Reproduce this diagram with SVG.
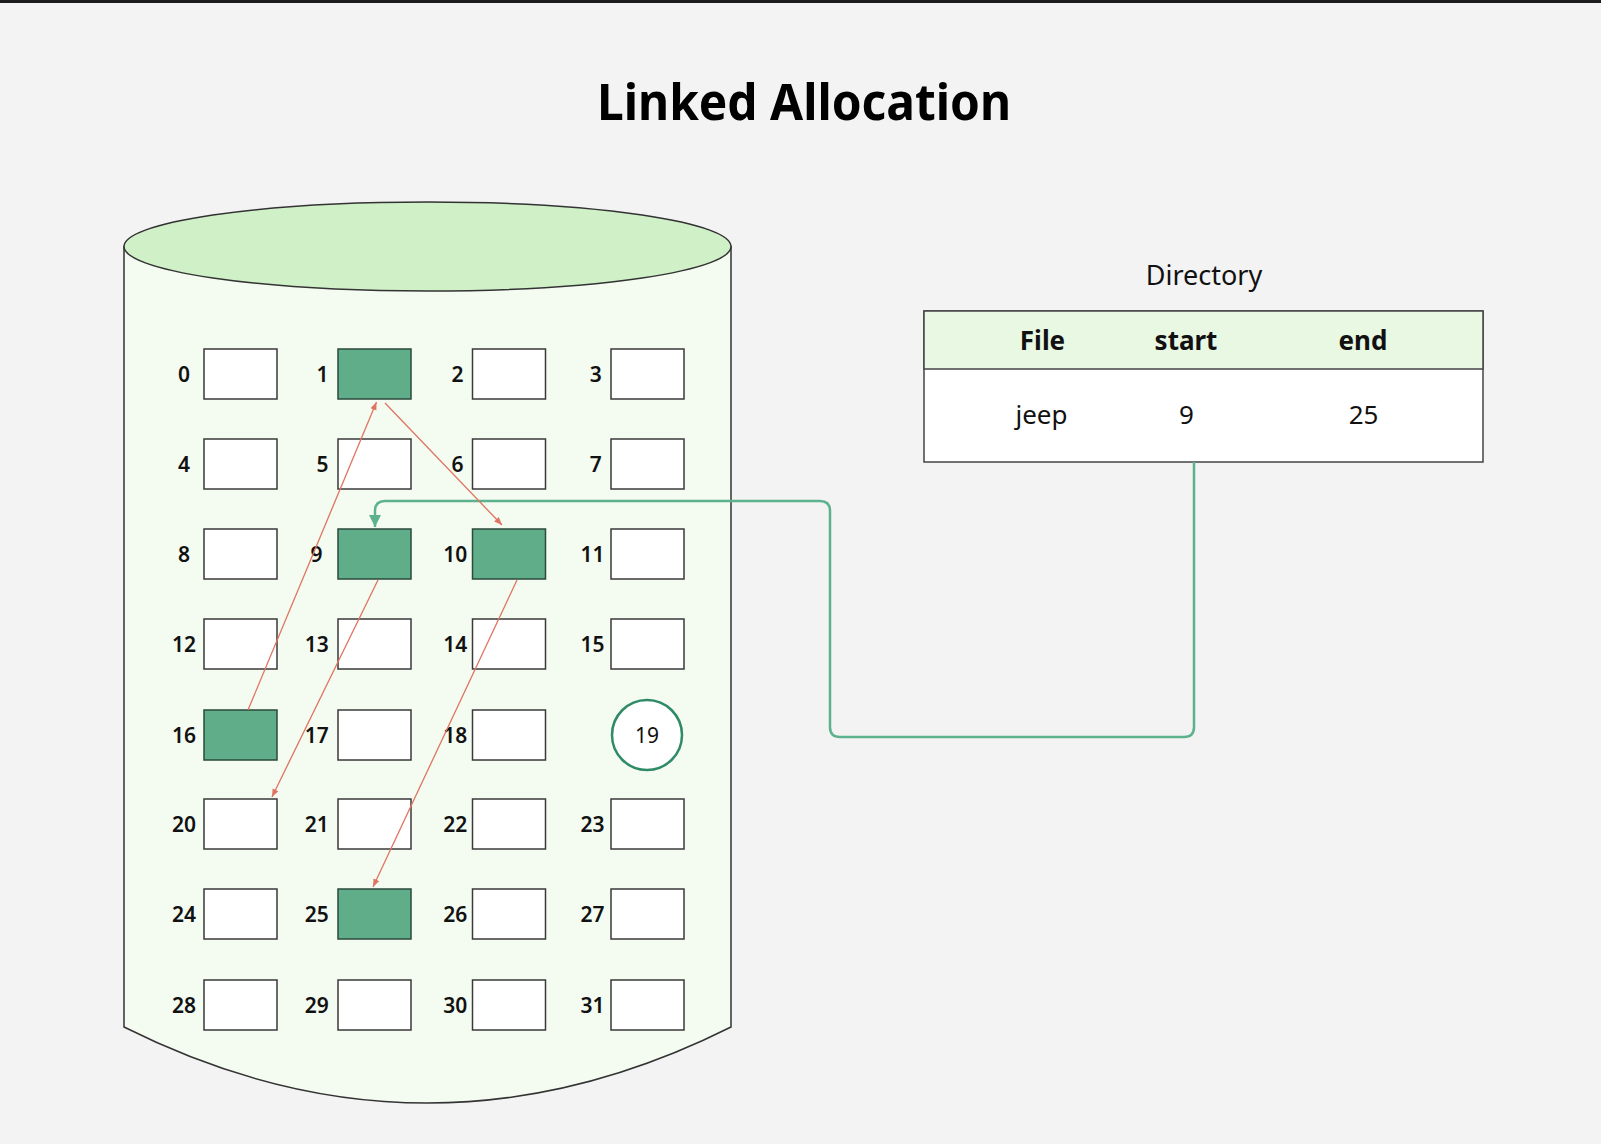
<svg xmlns="http://www.w3.org/2000/svg" width="1601" height="1144" viewBox="0 0 1601 1144">
<style>
.blk{fill:#ffffff;stroke:#3a3a3a;stroke-width:1.5}
.used{fill:#5fae89;stroke:#2a4a3b;stroke-width:1.5}
.lbl{font-family:"Noto Sans","DejaVu Sans",sans-serif;font-weight:600;font-size:21px;fill:#111;text-anchor:middle}
.red{stroke:#e07460;stroke-width:1.3;fill:none}
.grn{stroke:#5cb28d;stroke-width:2.5;fill:none}
.th{font-family:"Noto Sans","DejaVu Sans",sans-serif;font-weight:700;font-size:26px;fill:#111;text-anchor:middle}
.td{font-family:"Noto Sans","DejaVu Sans",sans-serif;font-size:26px;fill:#111;text-anchor:middle}
</style>
<defs>
<marker id="ra" markerUnits="userSpaceOnUse" viewBox="0 0 10 10" markerWidth="8" markerHeight="8" refX="10" refY="5" orient="auto"><path d="M0,1 L10,5 L0,9 z" fill="#e07460"/></marker>
<marker id="ga" markerUnits="userSpaceOnUse" viewBox="0 0 10 10" markerWidth="12" markerHeight="12" refX="10" refY="5" orient="auto"><path d="M0,0 L10,5 L0,10 z" fill="#5cb28d"/></marker>
</defs>
<rect x="0" y="0" width="1601" height="1144" fill="#f3f3f3"/>
<rect x="0" y="0" width="1601" height="3" fill="#1c1c1f"/>
<g id="title"><text x="804" y="120" font-family="'Noto Sans','DejaVu Sans',sans-serif" font-weight="700" font-size="51" text-anchor="middle" textLength="414" lengthAdjust="spacingAndGlyphs" fill="#000">Linked Allocation</text></g>
<g id="disk">
<path d="M124,246.5 V1027 Q427.5,1179 731,1027 V246.5 Z" fill="#f4fbf1" stroke="#333" stroke-width="1.5"/>
<ellipse cx="427.5" cy="246.5" rx="303.5" ry="44.5" fill="#d0f0c8" stroke="#333" stroke-width="1.5"/>
</g>
<g id="b0"><rect class="blk" x="204" y="349" width="73" height="50"/><text class="lbl" x="184" y="382">0</text></g>
<g id="b1"><rect class="used" x="338" y="349" width="73" height="50"/><text class="lbl" x="322.5" y="382">1</text></g>
<g id="b2"><rect class="blk" x="472.5" y="349" width="73" height="50"/><text class="lbl" x="457.5" y="382">2</text></g>
<g id="b3"><rect class="blk" x="611" y="349" width="73" height="50"/><text class="lbl" x="595.7" y="382">3</text></g>
<g id="b4"><rect class="blk" x="204" y="439" width="73" height="50"/><text class="lbl" x="184" y="472">4</text></g>
<g id="b5"><rect class="blk" x="338" y="439" width="73" height="50"/><text class="lbl" x="322.5" y="472">5</text></g>
<g id="b6"><rect class="blk" x="472.5" y="439" width="73" height="50"/><text class="lbl" x="457.5" y="472">6</text></g>
<g id="b7"><rect class="blk" x="611" y="439" width="73" height="50"/><text class="lbl" x="595.7" y="472">7</text></g>
<g id="b8"><rect class="blk" x="204" y="529" width="73" height="50"/><text class="lbl" x="184" y="562">8</text></g>
<g id="b9"><rect class="used" x="338" y="529" width="73" height="50"/><text class="lbl" x="316.5" y="562">9</text></g>
<g id="b10"><rect class="used" x="472.5" y="529" width="73" height="50"/><text class="lbl" x="455.3" y="562">10</text></g>
<g id="b11"><rect class="blk" x="611" y="529" width="73" height="50"/><text class="lbl" x="592.5" y="562">11</text></g>
<g id="b12"><rect class="blk" x="204" y="619" width="73" height="50"/><text class="lbl" x="184" y="652">12</text></g>
<g id="b13"><rect class="blk" x="338" y="619" width="73" height="50"/><text class="lbl" x="316.8" y="652">13</text></g>
<g id="b14"><rect class="blk" x="472.5" y="619" width="73" height="50"/><text class="lbl" x="455.3" y="652">14</text></g>
<g id="b15"><rect class="blk" x="611" y="619" width="73" height="50"/><text class="lbl" x="592.5" y="652">15</text></g>
<g id="b16"><rect class="used" x="204" y="710" width="73" height="50"/><text class="lbl" x="184" y="743">16</text></g>
<g id="b17"><rect class="blk" x="338" y="710" width="73" height="50"/><text class="lbl" x="316.8" y="743">17</text></g>
<g id="b18"><rect class="blk" x="472.5" y="710" width="73" height="50"/><text class="lbl" x="455.3" y="743">18</text></g>
<g id="b19"><circle cx="647" cy="735" r="35" fill="#ffffff" stroke="#2f8a68" stroke-width="2.5"/><text x="647" y="742.5" font-family="'Noto Sans','DejaVu Sans',sans-serif" font-size="21" text-anchor="middle" fill="#111">19</text></g>
<g id="b20"><rect class="blk" x="204" y="799" width="73" height="50"/><text class="lbl" x="184" y="832">20</text></g>
<g id="b21"><rect class="blk" x="338" y="799" width="73" height="50"/><text class="lbl" x="316.8" y="832">21</text></g>
<g id="b22"><rect class="blk" x="472.5" y="799" width="73" height="50"/><text class="lbl" x="455.3" y="832">22</text></g>
<g id="b23"><rect class="blk" x="611" y="799" width="73" height="50"/><text class="lbl" x="592.5" y="832">23</text></g>
<g id="b24"><rect class="blk" x="204" y="889" width="73" height="50"/><text class="lbl" x="184" y="922">24</text></g>
<g id="b25"><rect class="used" x="338" y="889" width="73" height="50"/><text class="lbl" x="316.8" y="922">25</text></g>
<g id="b26"><rect class="blk" x="472.5" y="889" width="73" height="50"/><text class="lbl" x="455.3" y="922">26</text></g>
<g id="b27"><rect class="blk" x="611" y="889" width="73" height="50"/><text class="lbl" x="592.5" y="922">27</text></g>
<g id="b28"><rect class="blk" x="204" y="980" width="73" height="50"/><text class="lbl" x="184" y="1013">28</text></g>
<g id="b29"><rect class="blk" x="338" y="980" width="73" height="50"/><text class="lbl" x="316.8" y="1013">29</text></g>
<g id="b30"><rect class="blk" x="472.5" y="980" width="73" height="50"/><text class="lbl" x="455.3" y="1013">30</text></g>
<g id="b31"><rect class="blk" x="611" y="980" width="73" height="50"/><text class="lbl" x="592.5" y="1013">31</text></g>
<g id="directory">
<text x="1204" y="285" font-family="'Noto Sans','DejaVu Sans',sans-serif" font-size="27" text-anchor="middle" fill="#111">Directory</text>
<rect x="924" y="311" width="559" height="151" fill="#ffffff" stroke="#444" stroke-width="1.5"/>
<rect x="924" y="311" width="559" height="58" fill="#e9f8e3" stroke="#444" stroke-width="1.5"/>
<text class="th" x="1042.5" y="350">File</text>
<text class="th" x="1186" y="350">start</text>
<text class="th" x="1363" y="350">end</text>
<text class="td" x="1041.5" y="424">jeep</text>
<text class="td" x="1186.5" y="424">9</text>
<text class="td" x="1363.5" y="424">25</text>
</g>
<g id="connectors">
<path class="grn" d="M1194,462 V727 Q1194,737 1184,737 H840 Q830,737 830,727 V511 Q830,501 820,501 H385 Q375,501 375,511 V527" marker-end="url(#ga)"/>
<line class="red" x1="248" y1="710" x2="376.5" y2="402" marker-end="url(#ra)"/>
<line class="red" x1="385" y1="403" x2="502" y2="525" marker-end="url(#ra)"/>
<line class="red" x1="378" y1="580" x2="272" y2="797" marker-end="url(#ra)"/>
<line class="red" x1="517" y1="580" x2="373" y2="887" marker-end="url(#ra)"/>
</g>
</svg>
